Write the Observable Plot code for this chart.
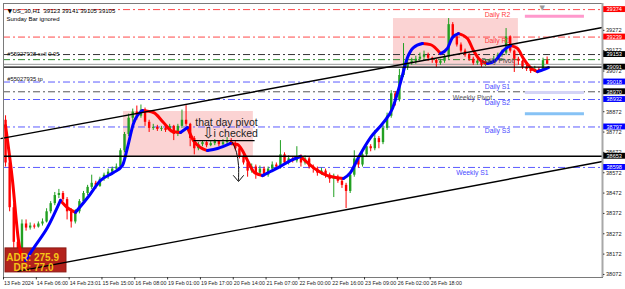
<!DOCTYPE html>
<html><head><meta charset="utf-8">
<script src="https://cdn.jsdelivr.net/npm/d3@7"></script>
<script src="https://cdn.jsdelivr.net/npm/@observablehq/plot@0.6"></script>
<style>
html,body{margin:0;padding:0;background:#fff;}
svg{display:block;}
</style></head><body><div id="chart"></div>
<script>
// ---- candle data (H1, US_30) ----
const open = [
38830,38620,38400,38230,38150,38320,38300,38310,38305,38320,
38330,38380,38420,38460,38470,38440,38380,38330,38380,38430,
38470,38500,38520,38505,38540,38560,38575,38590,38600,38680,
38760,38840,38870,38850,38880,38820,38790,38795,38785,38790,
38780,38800,38760,38800,38830,38810,38740,38690,38710,38720,
38705,38715,38725,38710,38720,38730,38715,38690,38650,38620,
38580,38600,38570,38590,38560,38590,38610,38600,38660,38620,
38640,38630,38650,38620,38640,38600,38590,38570,38580,38560,
38540,38550,38530,38510,38480,38560,38640,38610,38660,38700,
38690,38740,38720,38790,38850,38960,38930,39050,39090,39110,
39120,39130,39140,39150,39135,39125,39110,39120,39140,39300,
39240,39200,39170,39150,39130,39110,39120,39100,39115,39120,
39130,39150,39160,39240,39170,39130,39120,39090,39080,39070,
39080,39075,39123];
const high = [
38852,38640,38420,38250,38340,38340,38325,38320,38330,38345,
38395,38430,38475,38490,38480,38450,38395,38390,38440,38480,
38510,38560,38530,38550,38570,38590,38600,38615,38690,38770,
38860,38885,38900,38905,38890,38830,38810,38805,38800,38800,
38810,38805,38810,38880,38902,38815,38750,38720,38730,38725,
38725,38735,38730,38735,38745,38740,38725,38700,38660,38630,
38615,38610,38605,38600,38600,38625,38620,38730,38670,38655,
38650,38700,38660,38655,38650,38610,38600,38595,38590,38570,
38565,38560,38540,38520,38575,38680,38655,38675,38715,38710,
38780,38750,38805,38865,38975,38970,39080,39207,39125,39135,
39145,39160,39170,39160,39140,39130,39130,39150,39330,39310,
39250,39210,39180,39160,39140,39130,39125,39125,39130,39145,
39160,39175,39281,39245,39175,39140,39125,39100,39090,39095,
39090,39135,39141];
const low = [
38600,38380,38200,38120,38110,38285,38290,38295,38300,38310,
38325,38370,38410,38445,38430,38340,38300,38320,38370,38420,
38460,38490,38490,38500,38530,38540,38560,38575,38590,38670,
38750,38820,38830,38840,38800,38770,38780,38775,38775,38770,
38775,38730,38750,38790,38800,38700,38660,38680,38700,38695,
38700,38705,38700,38705,38710,38705,38680,38640,38610,38550,
38570,38540,38560,38550,38550,38580,38590,38590,38610,38610,
38620,38620,38600,38610,38590,38570,38555,38560,38545,38520,
38450,38520,38495,38396,38470,38550,38595,38600,38650,38675,
38680,38690,38710,38780,38840,38900,38920,39040,39075,39100,
39105,39120,39130,39120,39110,39090,39100,39110,39130,39230,
39190,39160,39140,39120,39100,39100,39090,39095,39110,39115,
39125,39140,39150,39160,39065,39100,39080,39070,39060,39065,
39065,39070,39105];
const close = [
38620,38400,38230,38150,38320,38300,38310,38305,38320,38330,
38380,38420,38460,38470,38440,38380,38330,38380,38430,38470,
38500,38520,38505,38540,38560,38575,38590,38600,38680,38760,
38840,38870,38850,38880,38820,38790,38795,38785,38790,38780,
38800,38760,38800,38830,38810,38740,38690,38710,38720,38705,
38715,38725,38710,38720,38730,38715,38690,38650,38620,38580,
38600,38570,38590,38560,38590,38610,38600,38660,38620,38640,
38630,38650,38620,38640,38600,38590,38570,38580,38560,38540,
38550,38530,38510,38480,38560,38640,38610,38660,38700,38690,
38740,38720,38790,38850,38960,38930,39050,39090,39110,39120,
39130,39140,39150,39135,39125,39110,39120,39140,39300,39240,
39200,39170,39150,39130,39110,39120,39100,39115,39120,39130,
39150,39160,39240,39170,39130,39120,39090,39080,39070,39080,
39075,39123,39105];

// ---- smoothed MA (key points: bar position, price) ----
const maX = [0.49,2.19,3.66,4.63,5.36,7.8,10.72,13.89,15.84,17.55,20.72,23.64,26.81,29.0,30.22,31.68,33.88,36.56,38.99,41.19,43.14,44.85,46.31,48.01,49.72,52.16,55.33,57.03,58.49,59.71,61.17,63.12,65.07,67.51,69.95,72.39,74.34,76.53,78.97,80.92,82.87,84.57,86.52,89.45,92.62,94.81,96.76,98.46,99.93,102.12,104.07,106.51,108.21,109.43,110.89,113.09,114.55,116.26,117.96,119.91,121.86,123.57,125.27,126.74,128.44,130.15,131.61,132.83];
const maY = [38804,38534,38239,38151,38141,38215,38303,38436,38396,38377,38455,38534,38573,38608,38696,38814,38878,38868,38819,38775,38770,38794,38730,38696,38681,38691,38716,38711,38672,38622,38573,38558,38578,38603,38632,38652,38617,38583,38558,38549,38544,38573,38647,38745,38819,38888,39015,39138,39187,39207,39202,39158,39183,39237,39256,39232,39173,39124,39109,39124,39173,39197,39183,39133,39089,39069,39079,39089];

// ---- axis ----
const tickPrices = [38072,38172,38272,38372,38472,38572,38672,38772,38872,39072,39172,39272];
const timeLabels = ["13 Feb 2024","14 Feb 06:00","14 Feb 23:01","15 Feb 15:00","16 Feb 08:00","19 Feb 01:00","19 Feb 17:00","20 Feb 14:00","21 Feb 07:00","22 Feb 00:00","22 Feb 16:00","23 Feb 09:00","26 Feb 02:00","26 Feb 18:00"];
const levelPrices = [39374,39239,39153,39091,39018,38970,38932,38797,38653,38598];
const levelKinds = ["R","R","K","K","S","K","S","S","K","S"];

// ---- pivots & lines ----
const pivotNames = ["Daily R2","Daily R1","Daily Pivot","Daily S1","Weekly Pivot","Daily S2","Daily S3","Weekly S1"];
const pivotPrices = [39374,39239,39128,39018,38970,38932,38797,38598];
const pivotKinds = ["R","R","P","S","W","S","S","WS"];
const orderPrices = [39153];
const solidPrices = [39091,38653];
const bidPrice = 39105;
const title = "US_30,H1  39123 39141 39105 39105";
const subtitle = "Sunday Bar ignored";
const orderTexts = ["#55027938 sell 0.05","#55027935 tp"];
const orderTextPrices = [39153,39018];
const adrText = ["ADR: 275.9","DR: 77.0"];
const noteText = ["that day pivot","i checked"];

// zones [x1,x2,priceLow,priceHigh]
const zones = [[95.05,125.5,39094,39330],[29.25,60.9,38652,38873]];
// trendlines [x1,p1,x2,p2]
const trendlines = [[-0.73,38740,146,39286],[3.41,38087,146,38627],[46.3,38730,61.2,38730]];
// short marker bars [x1,x2,price]
const markers = [[127.2,141.6,39341],[127.2,141.6,38966],[127.2,141.6,38862]];
// hand-drawn arrow path
const arrowX = [55.81,56.79,57.28,57.28];
const arrowY = [38721,38672,38608,38534];
const arrowHeadX = [56.05,57.28,58.49];
const arrowHeadY = [38558,38529,38558];
// ADR box
const adrBox = [0.49,15.35,38082,38200];

// ---------- build ----------
const G = "#22a022", R = "#ff0000", B = "#0000ff";
const candles = close.map((c,i)=>({u:i+0.5,o:open[i],h:high[i],l:low[i],c}));
const up = candles.filter(d=>d.c>=d.o), dn = candles.filter(d=>d.c<d.o);

// MA split into rising/falling runs
const maPts = maX.map((x,i)=>({x,y:maY[i]}));
const runs = [];
let cur = null;
for (let i=0;i<maPts.length-1;i++){
  const col = maPts[i+1].y >= maPts[i].y ? "blue" : "red";
  if (!cur || cur.col !== col){ cur = {col, pts:[maPts[i]]}; runs.push(cur); }
  cur.pts.push(maPts[i+1]);
}
const maRows = [];
runs.forEach((r,k)=>r.pts.forEach(p=>maRows.push({x:p.x,y:p.y,run:k,col:r.col})));

const kindColor = {R:"#ff0000",K:"#000000",S:"#0000ff"};
const dashColor = {R:"#ff4a4a",P:"#2e8b2e",S:"#5c5cff",W:"#555555",WS:"#5c5cff"};
const labelColor = {R:"#ff4040",P:"#444444",S:"#4a4aff",W:"#555555",WS:"#4a4aff"};
const labelU = {R:120.4,P:120.4,S:120.4,W:114.3,WS:114.3};
const labelDy = [5,4,1,5,6,3,4,5];

const pivRows = pivotNames.map((n,i)=>({n,p:pivotPrices[i],k:pivotKinds[i],dy:labelDy[i]}));
const dashDA = "7,3,2,3";
const font = "'Liberation Sans', Arial, sans-serif";

const marks = [
  Plot.rect(zones, {x1:d=>d[0], x2:d=>d[1], y1:d=>d[2], y2:d=>d[3], fill:"#fbd3d3"}),
  Plot.ruleY(pivRows, {y:"p", stroke:d=>dashColor[d.k], strokeDasharray:dashDA, strokeWidth:1}),
  Plot.ruleY(orderPrices, {y:d=>d, stroke:"#333", strokeDasharray:dashDA, strokeWidth:1}),
  Plot.ruleY(markers.slice(0,1), {y:d=>d[2], x1:d=>d[0], x2:d=>d[1], stroke:"#ff99cc", strokeWidth:3}),
  Plot.ruleY(markers.slice(1,2), {y:d=>d[2], x1:d=>d[0], x2:d=>d[1], stroke:"#d4d4f6", strokeWidth:3}),
  Plot.ruleY(markers.slice(2,3), {y:d=>d[2], x1:d=>d[0], x2:d=>d[1], stroke:"#86c2f5", strokeWidth:3}),
  Plot.ruleY([bidPrice], {y:d=>d, stroke:"#9a9a9a", strokeWidth:1}),
  Plot.ruleX(up, {x:"u", y1:"l", y2:"h", stroke:G, strokeWidth:1}),
  Plot.ruleX(dn, {x:"u", y1:"l", y2:"h", stroke:R, strokeWidth:1}),
  Plot.ruleX(up, {x:"u", y1:"o", y2:"c", stroke:G, strokeWidth:2.4}),
  Plot.ruleX(dn, {x:"u", y1:"o", y2:"c", stroke:R, strokeWidth:2.4}),
  Plot.rect([adrBox], {x1:d=>d[0], x2:d=>d[1], y1:d=>d[2], y2:d=>d[3], fill:"#b3221c", stroke:"#8c1a15"}),
  Plot.line(maRows.filter(d=>d.col==="red"), {x:"x", y:"y", z:"run", stroke:R, strokeWidth:3, curve:"monotone-x", strokeLinecap:"round"}),
  Plot.line(maRows.filter(d=>d.col==="blue"), {x:"x", y:"y", z:"run", stroke:B, strokeWidth:3, curve:"monotone-x", strokeLinecap:"round"}),
  Plot.ruleY(solidPrices, {y:d=>d, stroke:"#000", strokeWidth:1.4}),
  Plot.link(trendlines, {x1:d=>d[0], y1:d=>d[1], x2:d=>d[2], y2:d=>d[3], stroke:"#000", strokeWidth:1.4}),
  Plot.line(arrowX.map((x,i)=>({x,y:arrowY[i]})), {x:"x", y:"y", stroke:"#111", strokeWidth:1, curve:"catmull-rom"}),
  Plot.line(arrowHeadX.map((x,i)=>({x,y:arrowHeadY[i]})), {x:"x", y:"y", stroke:"#111", strokeWidth:1}),
  Plot.text([noteText[0]], {x:54.35, y:38819, text:d=>d, fontSize:10.5, fill:"#222", fontFamily:font}),
  Plot.text([noteText[1]], {x:56.6, y:38763, text:d=>d, fontSize:10.5, fill:"#222", fontFamily:font}),
  Plot.text(["⇩"], {x:49.96, y:38765, text:d=>d, fontSize:15, fill:"#222", fontFamily:"DejaVu Sans"}),
  Plot.text([adrText[0]], {x:7.1, y:38156, text:d=>d, fontSize:10, fontWeight:"bold", fill:"#f5c518", fontFamily:font}),
  Plot.text([adrText[1]], {x:7.3, y:38106, text:d=>d, fontSize:10, fontWeight:"bold", fill:"#f5c518", fontFamily:font})
];
pivRows.forEach(d=>{
  marks.push(Plot.text([d], {x:labelU[d.k], y:"p", text:"n", dy:d.dy, fontSize:6.8, fill:labelColor[d.k], fontFamily:font}));
});
marks.push(Plot.text([orderTexts[0]], {x:0.9, y:orderTextPrices[0], text:d=>d, textAnchor:"start", fontSize:5.8, fill:"#111", fontFamily:font}));
marks.push(Plot.text([orderTexts[1]], {x:0.9, y:orderTextPrices[1], text:d=>d, textAnchor:"start", dy:-3, fontSize:5.8, fill:"#111", fontFamily:font}));
marks.push(Plot.text(["▼"], {frameAnchor:"top-left", dx:4, dy:5, text:d=>d, fontSize:6, fill:"#000", fontFamily:"DejaVu Sans"}));
marks.push(Plot.text([title], {frameAnchor:"top-left", dx:9, dy:5, text:d=>d, textAnchor:"start", fontSize:6, fill:"#000", fontFamily:font}));
marks.push(Plot.text([subtitle], {frameAnchor:"top-left", dx:3, dy:13.5, text:d=>d, textAnchor:"start", fontSize:6, fill:"#000", fontFamily:font}));
marks.push(Plot.text(["▼"], {frameAnchor:"top-left", dx:536, dy:2, text:d=>d, fontSize:7, fill:"#9a9a9a", fontFamily:"DejaVu Sans"}));
marks.push(Plot.frame({stroke:"#7a7a7a", strokeWidth:1}));
marks.push(Plot.ruleX([146], {x:d=>d, stroke:"#a8a8a8", strokeWidth:2}));
marks.push(Plot.ruleY(tickPrices, {y:d=>d, x1:146.25, x2:146.6, stroke:"#333"}));
marks.push(Plot.text(tickPrices, {y:d=>d, frameAnchor:"right", dx:3.5, text:d=>String(d), textAnchor:"start", fontSize:5.6, fill:"#222", fontFamily:font}));
marks.push(Plot.rect(levelPrices.map((p,i)=>({p,k:levelKinds[i]})), {x1:146.3, x2:151.6, y1:d=>d.p-14.5, y2:d=>d.p+14.5, fill:d=>kindColor[d.k]}));
marks.push(Plot.text(levelPrices, {x:148.85, y:d=>d, text:d=>String(d), fontSize:5.6, fill:"#fff", fontFamily:font}));
marks.push(Plot.ruleX(timeLabels.map((t,i)=>i*8), {x:d=>d, y1:38057, y2:38045, stroke:"#333"}));
marks.push(Plot.text(timeLabels, {x:(d,i)=>i*8, frameAnchor:"bottom", dy:7, dx:0.5, text:d=>d, textAnchor:"start", fontSize:5.3, fill:"#222", fontFamily:font}));

const chart = Plot.plot({
  width:625, height:289,
  marginLeft:3, marginRight:23, marginTop:3, marginBottom:12,
  x:{domain:[0,146], axis:null},
  y:{domain:[38057,39404], axis:null},
  style:{background:"#fff", fontFamily:font, overflow:"visible"},
  marks
});
document.getElementById("chart").appendChild(chart);
</script>
</body></html>
